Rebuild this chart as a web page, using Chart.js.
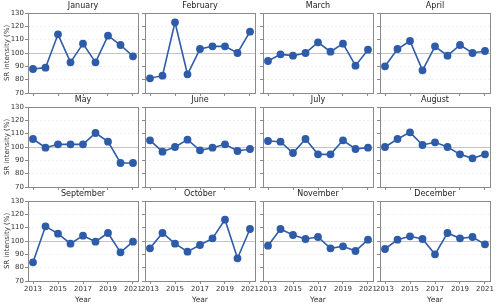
<!DOCTYPE html>
<html>
<head>
<meta charset="utf-8">
<script src="https://cdn.jsdelivr.net/npm/chart.js@4"></script>
<style>
  body { margin: 0; background: #fff; }
  #wrap { position: relative; width: 500px; height: 304px; overflow: hidden; }
  #wrap canvas { position: absolute; }
</style>
</head>
<body>
<div id="wrap"></div>
<script>
// data
const years = [2013, 2014, 2015, 2016, 2017, 2018, 2019, 2020, 2021];
const monthNames = ['January', 'February', 'March', 'April', 'May', 'June',
  'July', 'August', 'September', 'October', 'November', 'December'];
const january   = [88, 89, 114, 93, 107, 93, 113, 106, 97.5];
const february  = [81, 83, 123, 84, 103, 105, 105, 100, 116];
const march     = [94, 99, 98, 100, 108, 101, 107, 90.5, 102.5];
const april     = [90, 103, 109, 87, 105, 98, 106, 100, 101.5];
const may       = [106, 99.5, 102, 102, 102, 110.5, 104, 88, 88];
const june      = [105, 96.5, 100, 105.5, 97.5, 99.5, 102, 97, 98.5];
const july      = [104.5, 104, 95.5, 106, 94.5, 94.5, 105, 98.5, 99.5];
const august    = [100, 106, 111, 101.5, 103.5, 100, 94.5, 91.5, 94.5];
const september = [84, 111, 105.5, 98, 104, 99.5, 106, 91.5, 99.5];
const october   = [94.5, 106, 98, 92, 97, 102, 116, 87, 109];
const november  = [96.5, 109, 104.5, 101.5, 103, 94.5, 96, 92.5, 101];
const december  = [94, 101, 103.5, 101.5, 90, 106, 102, 103, 97.5];
const monthData = [january, february, march, april, may, june,
  july, august, september, october, november, december];
const xTicks = [2013, 2015, 2017, 2019, 2021];

const FONT = 'DejaVu Sans';
const LINE = '#2e5ca9';
const padL = 28, padT = 13, padB = 24, padR = 10;
const panelW = 110, panelH = 80;
const colLeft = [28, 145.3, 262.6, 380];
const rowTop = [13, 107, 201];

const frame = {
  id: 'frame',
  afterDatasetsDraw(chart) {
    const a = chart.chartArea, c = chart.ctx;
    c.save();
    c.strokeStyle = '#8a8a8a';
    c.lineWidth = 1;
    c.strokeRect(Math.round(a.left) + 0.5, Math.round(a.top) + 0.5,
      Math.round(a.right - a.left), Math.round(a.bottom - a.top));
    c.restore();
  }
};

monthData.forEach((vals, i) => {
  const col = i % 4, row = Math.floor(i / 4);
  const isLeft = col === 0, isBottom = row === 2;
  const cv = document.createElement('canvas');
  const w = padL + panelW + padR, h = padT + panelH + padB;
  cv.width = w; cv.height = h;
  cv.style.width = w + 'px'; cv.style.height = h + 'px';
  cv.style.left = (Math.round(colLeft[col]) - padL) + 'px';
  cv.style.top = (rowTop[row] - padT) + 'px';
  document.getElementById('wrap').appendChild(cv);

  new Chart(cv, {
    type: 'line',
    data: {
      datasets: [{
        data: years.map((y, k) => ({ x: y, y: vals[k] })),
        borderColor: LINE,
        backgroundColor: LINE,
        borderWidth: 1.6,
        pointRadius: 3.1,
        pointHoverRadius: 3.1,
        tension: 0
      }]
    },
    options: {
      responsive: false,
      animation: false,
      devicePixelRatio: 1,
      layout: { padding: { left: 0, right: padR, top: 0, bottom: 0 } },
      plugins: {
        legend: { display: false },
        tooltip: { enabled: false },
        title: {
          display: true,
          fullSize: false,
          text: monthNames[i],
          color: '#222',
          font: { family: FONT, size: 8, weight: 'normal' },
          padding: { top: 1, bottom: 2.4 }
        }
      },
      scales: {
        x: {
          type: 'linear',
          min: 2012.6, max: 2021.4,
          afterBuildTicks: s => { s.ticks = xTicks.map(v => ({ value: v })); },
          afterFit: s => { s.height = padB; },
          ticks: {
            color: isBottom ? '#333' : 'rgba(0,0,0,0)',
            font: { family: FONT, size: 7 },
            padding: 1,
            maxRotation: 0,
            autoSkip: false,
            callback: v => String(v)
          },
          grid: { drawOnChartArea: false, drawTicks: true, tickLength: 3, tickColor: '#8a8a8a' },
          border: { display: false },
          title: {
            display: isBottom,
            text: 'Year',
            color: '#333',
            font: { family: FONT, size: 7.5 },
            padding: { top: 0, bottom: 0 }
          }
        },
        y: {
          min: 70, max: 130,
          afterFit: s => { s.width = padL; },
          ticks: {
            stepSize: 10,
            color: isLeft ? '#333' : 'rgba(0,0,0,0)',
            font: { family: FONT, size: 7 },
            padding: 1
          },
          grid: {
            drawTicks: true,
            tickLength: 3,
            tickColor: '#8a8a8a',
            lineWidth: 1,
            color: c => {
              const v = c.tick ? c.tick.value : null;
              if (v === 70 || v === 130) return 'rgba(0,0,0,0)';
              return v === 100 ? '#c4c4c4' : '#f0f0f0';
            }
          },
          border: {
            display: false,
            dash: c => (c.tick && c.tick.value !== 100 ? [2, 2] : [])
          },
          title: {
            display: isLeft,
            text: 'SR intensity (%)',
            color: '#333',
            font: { family: FONT, size: 7 },
            padding: { top: 3, bottom: 0 }
          }
        }
      }
    },
    plugins: [frame]
  });
});
</script>
</body>
</html>
